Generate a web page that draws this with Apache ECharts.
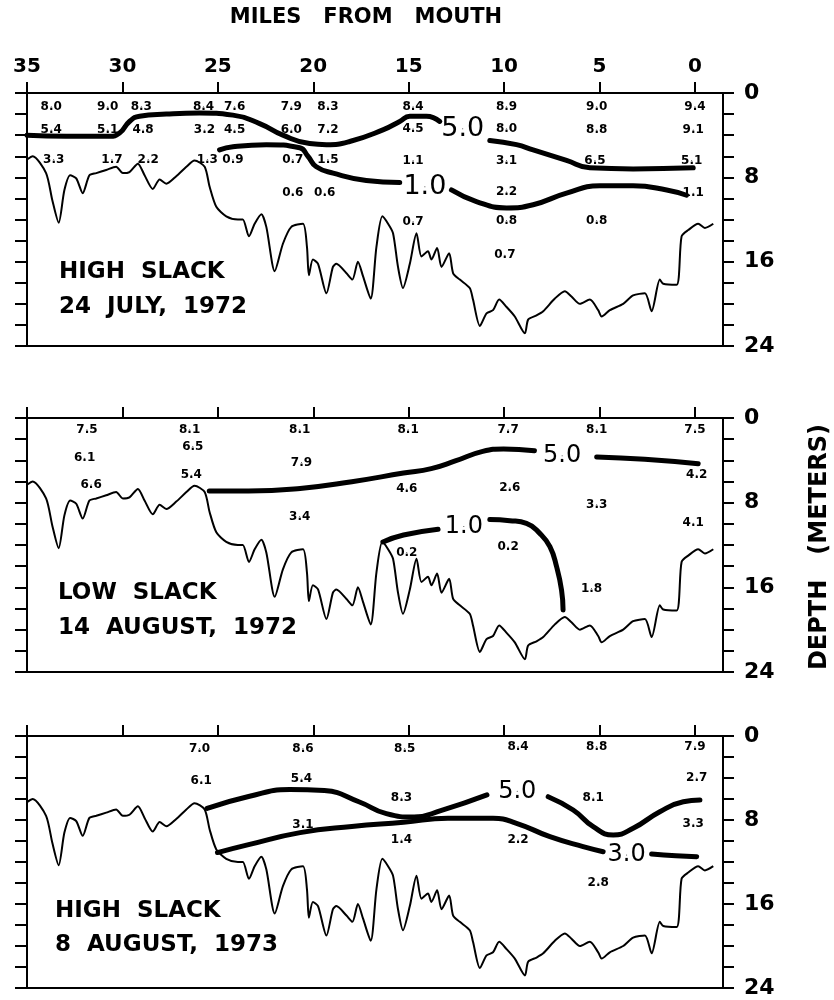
<!DOCTYPE html>
<html>
<head>
<meta charset="utf-8">
<title>Salinity sections</title>
<script src="https://cdn.jsdelivr.net/npm/echarts@6.0.0/dist/echarts.min.js"></script>
<style>
  html, body { margin: 0; padding: 0; background: #fff; }
  #chart { width: 834px; height: 1000px; }
</style>
</head>
<body>
<div id="chart"></div>
<script>
const FONT = 'DejaVu Sans'
const INK = '#000'

// axis ticks
const mileTicks = [35, 30, 25, 20, 15, 10, 5, 0]
const depthTicks = [0, 8, 16, 24]

// river bottom [miles from mouth, depth m], same section under all three surveys
const bottomProfile = [
  [35.0, 6.3], [34.7, 6.0], [34.0, 7.6], [33.67, 10.2], [33.34, 12.3], [33.04, 9.2], [32.74, 7.8],
  [32.42, 8.1], [32.08, 9.5], [31.73, 7.8], [31.37, 7.6], [30.85, 7.3], [30.33, 7.0], [29.98, 7.6],
  [29.63, 7.5], [29.19, 6.7], [28.84, 7.8], [28.41, 9.1], [28.05, 8.2], [27.7, 8.6], [27.18, 7.9],
  [26.65, 7.0], [26.22, 6.4], [25.69, 7.0], [25.43, 8.9], [25.08, 10.8], [24.56, 11.7], [23.95, 12.0],
  [23.69, 12.0], [23.37, 13.6], [23.07, 12.4], [22.72, 11.5], [22.46, 12.7], [22.02, 16.9], [21.59, 14.3],
  [21.15, 12.7], [20.54, 12.4], [20.33, 14.6], [20.23, 17.3], [20.02, 15.8], [19.75, 16.2], [19.31, 19.0],
  [18.97, 16.5], [18.79, 16.2], [18.26, 17.1], [17.95, 17.7], [17.66, 16.0], [17.39, 17.4], [16.99, 19.5],
  [16.69, 14.6], [16.38, 11.7], [16.08, 12.4], [15.82, 13.3], [15.56, 16.5], [15.3, 18.5], [14.94, 16.2],
  [14.59, 13.3], [14.33, 15.5], [13.99, 15.0], [13.81, 15.8], [13.51, 14.7], [13.28, 16.5], [12.88, 15.2],
  [12.67, 17.1], [12.32, 17.7], [11.8, 18.5], [11.63, 19.6], [11.27, 22.1], [10.92, 20.9], [10.58, 20.6],
  [10.26, 19.6], [9.87, 20.3], [9.44, 21.2], [8.91, 22.8], [8.74, 21.5], [8.3, 21.1], [7.95, 20.7],
  [7.34, 19.5], [6.82, 18.8], [6.47, 19.3], [6.03, 20.0], [5.51, 19.6], [5.07, 20.6], [4.89, 21.2],
  [4.46, 20.6], [3.76, 20.0], [3.24, 19.2], [2.62, 19.0], [2.27, 20.7], [1.84, 17.7], [1.66, 18.1],
  [0.96, 18.2], [0.7, 13.6], [0.35, 13.0], [-0.17, 12.4], [-0.52, 12.8], [-0.96, 12.4]
]

// high slack, 24 July 1972 : station values [mile, depth, text]
const july72Values = [
  [33.73, 1.3, '8.0'], [30.77, 1.3, '9.0'], [29.01, 1.3, '8.3'], [25.75, 1.3, '8.4'], [24.12, 1.3, '7.6'],
  [21.15, 1.3, '7.9'], [19.23, 1.3, '8.3'], [14.77, 1.3, '8.4'], [9.87, 1.3, '8.9'], [5.15, 1.3, '9.0'], [0.0, 1.3, '9.4'],
  [33.73, 3.5, '5.4'], [30.77, 3.5, '5.1'], [28.92, 3.5, '4.8'], [25.7, 3.5, '3.2'], [24.12, 3.5, '4.5'],
  [21.15, 3.5, '6.0'], [19.23, 3.5, '7.2'], [14.77, 3.4, '4.5'], [9.87, 3.4, '8.0'], [5.15, 3.5, '8.8'], [0.09, 3.5, '9.1'],
  [33.6, 6.3, '3.3'], [30.55, 6.3, '1.7'], [28.65, 6.3, '2.2'], [25.55, 6.3, '1.3'], [24.21, 6.3, '0.9'],
  [21.07, 6.3, '0.7'], [19.23, 6.3, '1.5'], [14.77, 6.4, '1.1'], [9.87, 6.4, '3.1'], [5.24, 6.4, '6.5'], [0.17, 6.4, '5.1'],
  [21.07, 9.5, '0.6'], [19.4, 9.5, '0.6'], [9.87, 9.4, '2.2'], [0.09, 9.5, '1.1'],
  [14.77, 12.2, '0.7'], [9.87, 12.1, '0.8'], [5.15, 12.1, '0.8'],
  [9.96, 15.4, '0.7']
]
const july72Iso5a = [[35.0, 4.0], [32.95, 4.1], [30.68, 4.1], [30.15, 3.8], [29.63, 2.7], [29.1, 2.2], [27.7, 2.0],
  [25.96, 1.9], [24.21, 2.1], [22.81, 2.9], [21.59, 4.0], [20.19, 4.8], [19.31, 4.9], [18.09, 4.6],
  [16.35, 3.5], [15.47, 2.7], [14.94, 2.2], [14.07, 2.2], [13.37, 2.7]]
const july72Iso5b = [[10.75, 4.5], [9.35, 4.9], [8.48, 5.4], [6.73, 6.4], [5.51, 7.1], [3.24, 7.2], [0.09, 7.1]]
const july72Iso1a = [[24.91, 5.4], [24.21, 5.1], [22.46, 4.9], [20.71, 5.2], [20.28, 6.0], [19.84, 7.0],
  [18.96, 7.6], [17.22, 8.3], [15.47, 8.5]]
const july72Iso1b = [[12.76, 9.2], [11.45, 10.3], [9.87, 10.9], [8.48, 10.6], [6.73, 9.5], [4.98, 8.8],
  [3.24, 8.8], [1.48, 9.2], [0.44, 9.7]]
const july72Tags = [[12.17, 3.4, '5.0'], [14.15, 8.9, '1.0']]

// low slack, 14 August 1972
const aug72Values = [
  [31.86, 1.1, '7.5'], [31.98, 3.8, '6.1'], [31.64, 6.3, '6.6'],
  [26.48, 1.1, '8.1'], [26.31, 2.7, '6.5'], [26.39, 5.4, '5.4'],
  [20.71, 1.1, '8.1'], [20.62, 4.2, '7.9'], [20.71, 9.3, '3.4'],
  [15.03, 1.1, '8.1'], [15.1, 6.7, '4.6'], [15.1, 12.7, '0.2'],
  [9.79, 1.1, '7.7'], [9.7, 6.6, '2.6'], [9.79, 12.2, '0.2'],
  [5.15, 1.1, '8.1'], [5.15, 8.2, '3.3'], [5.42, 16.1, '1.8'],
  [0.0, 1.1, '7.5'], [-0.09, 5.4, '4.2'], [0.09, 9.95, '4.1']
]
const aug72Iso5a = [[25.45, 6.9], [23.39, 6.9], [20.69, 6.66], [17.98, 6.02], [15.27, 5.2], [13.82, 4.78],
  [12.56, 4.06], [11.12, 3.15], [10.03, 2.92], [8.41, 3.1]]
const aug72Iso5b = [[5.15, 3.68], [2.63, 3.9], [-0.17, 4.32]]
const aug72Iso1a = [[16.35, 11.71], [15.27, 11.06], [13.46, 10.51]]
const aug72Iso1b = [[10.75, 9.6], [9.7, 9.7], [8.83, 9.95], [8.13, 10.9], [7.6, 12.16], [7.25, 14.05],
  [6.99, 16.26], [6.91, 18.15]]
const aug72Tags = [[6.96, 3.57, '5.0'], [12.11, 10.25, '1.0']]

// high slack, 8 August 1973
const aug73Values = [
  [25.96, 1.2, '7.0'], [25.87, 4.3, '6.1'],
  [20.54, 1.2, '8.6'], [20.62, 4.1, '5.4'], [20.54, 8.5, '3.1'],
  [15.21, 1.2, '8.5'], [15.38, 5.9, '8.3'], [15.38, 9.9, '1.4'],
  [9.27, 1.0, '8.4'], [9.27, 9.9, '2.2'],
  [5.15, 1.0, '8.8'], [5.33, 5.9, '8.1'], [5.07, 14.0, '2.8'],
  [0.0, 1.0, '7.9'], [-0.09, 4.0, '2.7'], [0.09, 8.4, '3.3']
]
const aug73Iso5a = [[25.56, 6.9], [23.39, 5.76], [21.23, 5.1], [19.42, 5.2], [17.61, 6.26], [16.17, 7.4],
  [14.72, 7.72], [13.28, 7.08], [10.9, 5.6]]
const aug73Iso5b = [[7.69, 5.78], [6.38, 7.05], [5.33, 8.64], [4.28, 9.43], [3.24, 8.79], [1.84, 7.21],
  [0.61, 6.26], [-0.26, 6.1]]
const aug73Iso3a = [[25.02, 11.1], [23.39, 10.35], [20.69, 9.2], [17.98, 8.61], [15.27, 8.22], [12.94, 7.84],
  [10.58, 7.84], [9.35, 8.31], [7.6, 9.59], [5.86, 10.54], [4.81, 11.02]]
const aug73Iso3b = [[2.27, 11.24], [1.0, 11.4], [-0.09, 11.5]]
const aug73Tags = [[9.31, 5.27, '5.0'], [3.58, 11.33, '3.0']]

// page layout of the three sections
const panels = [
  { top: 93, height: 253, miles: true, values: july72Values, lines: [july72Iso5a, july72Iso5b, july72Iso1a, july72Iso1b],
    tags: july72Tags, tagSize: 27, title: ['HIGH  SLACK', '24  JULY,  1972'], titleY: [273, 308], titleX: 59 },
  { top: 418, height: 254, miles: false, values: aug72Values, lines: [aug72Iso5a, aug72Iso5b, aug72Iso1a, aug72Iso1b],
    tags: aug72Tags, tagSize: 24, title: ['LOW  SLACK', '14  AUGUST,  1972'], titleY: [594, 629], titleX: 58 },
  { top: 736, height: 252, miles: false, values: aug73Values, lines: [aug73Iso5a, aug73Iso5b, aug73Iso3a, aug73Iso3b],
    tags: aug73Tags, tagSize: 24, title: ['HIGH  SLACK', '8  AUGUST,  1973'], titleY: [912, 946], titleX: 55 }
]

const axisLine = { show: true, onZero: false, lineStyle: { color: INK, width: 2 } }
const tickStyle = { color: INK, width: 2 }

let grid = []
let xAxis = []
let yAxis = []
let series = []
let graphic = []

const textItems = (data, size, weight) => ({
  type: 'scatter',
  symbolSize: 1,
  itemStyle: { color: INK },
  silent: true,
  label: {
    show: true,
    position: 'inside',
    formatter: '{b}',
    fontFamily: FONT,
    fontSize: size,
    fontWeight: weight,
    color: INK,
    textBorderWidth: 0,
    opacity: 1
  },
  data: data.map(d => ({ name: d[2], value: [d[0], d[1]] }))
})

panels.forEach((p, i) => {
  grid.push({ left: 27, width: 696, top: p.top, height: p.height })

  // top axis: miles from mouth
  xAxis.push({
    gridIndex: i, type: 'value', position: 'top', inverse: true, min: -1.47, max: 35,
    axisLine: axisLine,
    axisTick: { show: true, customValues: mileTicks, length: 11, lineStyle: tickStyle },
    axisLabel: {
      show: p.miles, customValues: mileTicks, margin: 16,
      fontFamily: FONT, fontSize: 20, fontWeight: 'bold', color: INK
    },
    splitLine: { show: false }
  })
  // bottom frame
  xAxis.push({
    gridIndex: i, type: 'value', position: 'bottom', inverse: true, min: -1.47, max: 35,
    axisLine: axisLine, axisTick: { show: false }, axisLabel: { show: false }, splitLine: { show: false }
  })

  yAxis.push({
    gridIndex: i, type: 'value', position: 'left', inverse: true, min: 0, max: 24, interval: 2,
    axisLine: axisLine,
    axisTick: { show: true, length: 12, lineStyle: tickStyle },
    axisLabel: { show: false },
    splitLine: { show: false }
  })
  yAxis.push({
    gridIndex: i, type: 'value', position: 'right', inverse: true, min: 0, max: 24, interval: 2,
    axisLine: axisLine,
    axisTick: { show: true, length: 11, lineStyle: tickStyle },
    axisLabel: {
      customValues: depthTicks, margin: 21,
      fontFamily: FONT, fontSize: 22, fontWeight: 'bold', color: INK
    },
    splitLine: { show: false }
  })

  // bottom profile
  series.push({
    type: 'line', xAxisIndex: 2 * i, yAxisIndex: 2 * i,
    data: bottomProfile, smooth: 0.25, symbol: 'none', silent: true,
    lineStyle: { color: INK, width: 2 }
  })
  // isohalines
  p.lines.forEach(seg => {
    series.push({
      type: 'line', xAxisIndex: 2 * i, yAxisIndex: 2 * i,
      data: seg, smooth: 0.5, symbol: 'none', silent: true,
      lineStyle: { color: INK, width: 5, cap: 'round' }
    })
  })
  // station values
  series.push(Object.assign(textItems(p.values, 12, 'bold'), { xAxisIndex: 2 * i, yAxisIndex: 2 * i }))
  // isohaline tags
  series.push(Object.assign(textItems(p.tags, p.tagSize, 'normal'), { xAxisIndex: 2 * i, yAxisIndex: 2 * i }))

  p.title.forEach((t, k) => {
    graphic.push({
      type: 'text', left: p.titleX, top: p.titleY[k] - 12,
      style: { text: t, fontFamily: FONT, fontSize: 23, fontWeight: 'bold', fill: INK }
    })
  })
})

graphic.push({
  type: 'text', x: 366, y: 18,
  style: { text: 'MILES   FROM   MOUTH', fontFamily: FONT, fontSize: 21, fontWeight: 'bold', fill: INK,
    align: 'center', verticalAlign: 'middle' }
})
graphic.push({
  type: 'text', x: 820, y: 547, rotation: Math.PI / 2,
  style: { text: 'DEPTH   (METERS)', fontFamily: FONT, fontSize: 24, fontWeight: 'bold', fill: INK,
    align: 'center', verticalAlign: 'middle' }
})

const chart = echarts.init(document.getElementById('chart'))
chart.setOption({
  animation: false,
  backgroundColor: '#fff',
  grid: grid,
  xAxis: xAxis,
  yAxis: yAxis,
  series: series,
  graphic: graphic
})
</script>
</body>
</html>
